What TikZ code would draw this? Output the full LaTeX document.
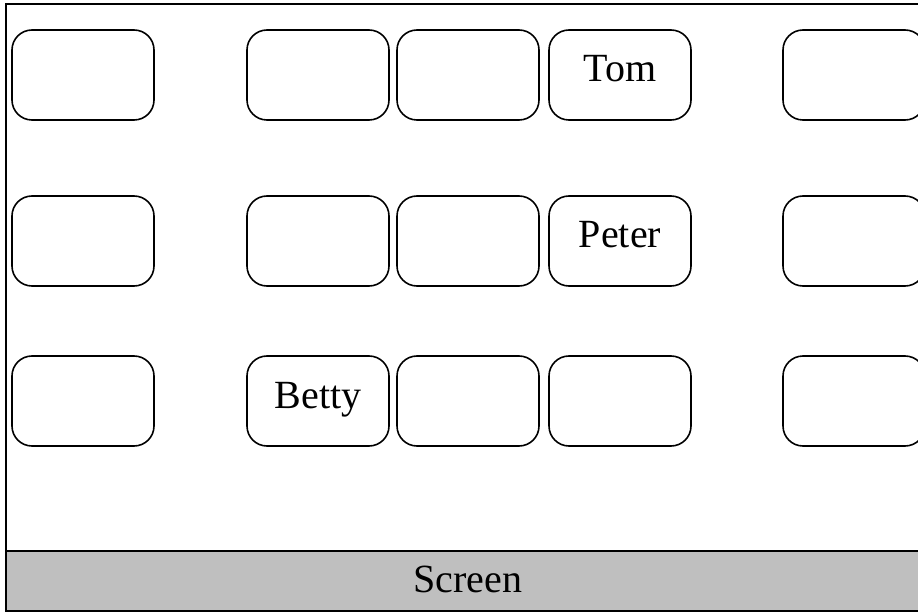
\documentclass[tikz,border=0pt]{standalone}
\usepackage{fontspec}
\setmainfont{Liberation Serif}
\usetikzlibrary{positioning}

\begin{document}
\begin{tikzpicture}
[x=1pt, y=-1pt, black, thick,
big font/.style = {font=\fontsize{40}{48}\selectfont},
seat/.style = {rectangle, draw, line width=1.6pt, rounded corners=20pt, minimum width=142pt,
               minimum height=90pt, inner sep=0pt, big font, text height=26pt, text depth=12pt},
screenbar/.style = {rectangle, draw, line width=2pt, fill=black!25, minimum width=924pt,
                    minimum height=60pt, inner sep=0pt, big font, text height=28pt, text depth=6pt}]
\useasboundingbox (0,0) rectangle (918,612);
\clip (0,0) rectangle (918,612);
\draw[line width=2pt] (6,4) rectangle (930,611);
% seats, row by row
\foreach \x/\col/\who in {83/1/{}, 318/2/{}, 468/3/{}, 620/4/Tom, 854/5/{}}
  \node[seat] (seat-1-\col) at (\x,75) {\who};
\foreach \x/\col/\who in {83/1/{}, 318/2/{}, 468/3/{}, 620/4/Peter, 854/5/{}}
  \node[seat] (seat-2-\col) at (\x,241) {\who};
\foreach \x/\col/\who in {83/1/{}, 318/2/Betty, 468/3/{}, 620/4/{}, 854/5/{}}
  \node[seat] (seat-3-\col) at (\x,401) {\who};
\node[screenbar] (screen) at (468,581) {Screen};
\end{tikzpicture}
\end{document}
